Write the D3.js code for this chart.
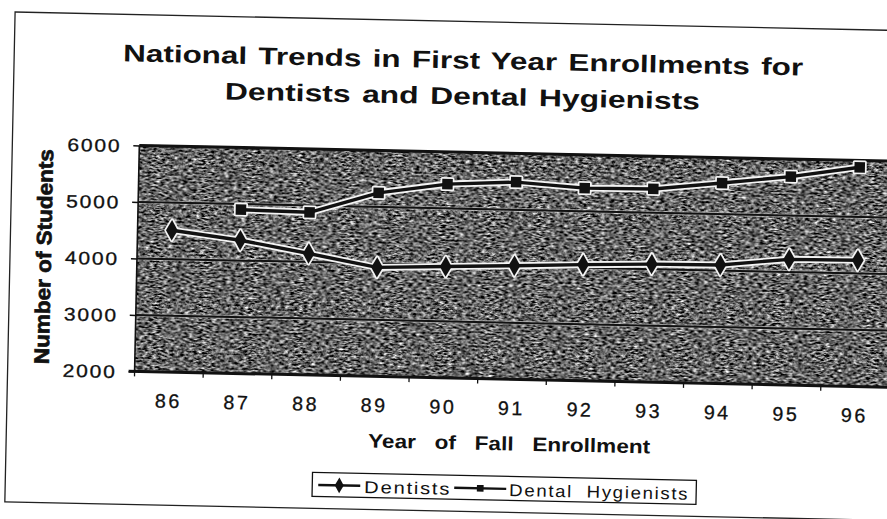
<!DOCTYPE html>
<html>
<head>
<meta charset="utf-8">
<script src="https://cdn.jsdelivr.net/npm/d3@7"></script>
<style>
  body { margin: 0; background: #fff; }
  svg { display: block; }
  text { font-family: "Liberation Sans", Arial, Helvetica, sans-serif; fill: #111; white-space: pre; }
</style>
</head>
<body>
<svg id="chart" width="887" height="519"></svg>
<script>
// ---- data ----
const years = ["86", "87", "88", "89", "90", "91", "92", "93", "94", "95", "96"];
const dentists = [4510, 4360, 4150, 3930, 3970, 4010, 4055, 4090, 4100, 4225, 4235];
const hygienists = [null, 4900, 4880, 5250, 5430, 5490, 5410, 5420, 5550, 5690, 5880];
const yTicks = [2000, 3000, 4000, 5000, 6000];
const seriesNames = ["Dentists", "Dental  Hygienists"];
const titleLines = ["National Trends in First Year Enrollments for", "Dentists and Dental Hygienists"];
const xTitle = "Year   of   Fall   Enrollment";
const yTitle = "Number of Students";

// ---- layout ----
const plot = { left: 137, right: 892, top: 151.8, bottom: 377.8 };

const svg = d3.select("#chart");
const defs = svg.append("defs");

// speckled fill used for the plot area
const grain = defs.append("filter")
  .attr("id", "grain")
  .attr("x", 0).attr("y", 0).attr("width", "100%").attr("height", "100%")
  .attr("color-interpolation-filters", "sRGB");
grain.append("feTurbulence")
  .attr("type", "fractalNoise")
  .attr("baseFrequency", "0.22 0.55")
  .attr("numOctaves", 3)
  .attr("seed", 7)
  .attr("result", "noise");
grain.append("feColorMatrix")
  .attr("in", "noise")
  .attr("type", "matrix")
  .attr("values", "1.9 0 0 0 -0.56  1.9 0 0 0 -0.56  1.9 0 0 0 -0.56  0 0 0 0 1");

// the printed page sits slightly askew
const root = svg.append("g").attr("transform", "rotate(1.2,443,260)");

// outer frame
root.append("rect")
  .attr("x", 10).attr("y", 21).attr("width", 900).attr("height", 490)
  .attr("fill", "none").attr("stroke", "#222").attr("stroke-width", 1.3);

// ---- scales ----
const x = d3.scaleBand().domain(years).range([plot.left, plot.right]);
const cx = d => x(d) + x.bandwidth() / 2;
const y = d3.scaleLinear().domain([2000, 6000]).range([plot.bottom, plot.top]);

// plot background
root.append("rect")
  .attr("x", plot.left).attr("y", plot.top)
  .attr("width", plot.right - plot.left).attr("height", plot.bottom - plot.top)
  .attr("fill", "#666")
  .attr("filter", "url(#grain)");

// gridlines
const grid = root.append("g");
const inner = yTicks.filter(v => v > 2000 && v < 6000);
grid.selectAll("line.halo").data(inner).join("line")
  .attr("class", "halo")
  .attr("x1", plot.left).attr("x2", plot.right)
  .attr("y1", d => y(d)).attr("y2", d => y(d))
  .attr("stroke", "#ddd").attr("stroke-opacity", 0.5).attr("stroke-width", 3.8);
grid.selectAll("line.core").data(inner).join("line")
  .attr("class", "core")
  .attr("x1", plot.left).attr("x2", plot.right)
  .attr("y1", d => y(d)).attr("y2", d => y(d))
  .attr("stroke", "#111").attr("stroke-width", 2);

// plot frame: heavy top and bottom rules, lighter left edge
root.append("line")
  .attr("x1", plot.left).attr("x2", plot.right)
  .attr("y1", y(6000)).attr("y2", y(6000))
  .attr("stroke", "#111").attr("stroke-width", 3);
root.append("line")
  .attr("x1", plot.left - 6).attr("x2", plot.right)
  .attr("y1", y(2000)).attr("y2", y(2000))
  .attr("stroke", "#111").attr("stroke-width", 3);
root.append("line")
  .attr("x1", plot.left).attr("x2", plot.left)
  .attr("y1", y(6000)).attr("y2", y(2000))
  .attr("stroke", "#111").attr("stroke-width", 1.6);

// y axis ticks and labels
const yAxis = root.append("g")
  .attr("transform", `translate(${plot.left},0)`)
  .call(d3.axisLeft(y).tickValues(yTicks).tickSize(6).tickPadding(0).tickFormat(d3.format("d")));
yAxis.select(".domain").remove();
yAxis.selectAll(".tick line").attr("stroke", "#111").attr("stroke-width", 1.5);
yAxis.selectAll(".tick text")
  .attr("x", -18)
  .attr("dy", "0.36em")
  .attr("text-anchor", "end")
  .attr("textLength", 54)
  .attr("lengthAdjust", "spacingAndGlyphs")
  .style("font-size", "18px")
  .style("letter-spacing", "1.5px")
  .style("fill", "#111")
  .style("stroke", "#111").style("stroke-width", 0.3);

// x axis: ticks on category boundaries, labels centred under categories
const bounds = years.map(d => x(d));
root.append("g").selectAll("line").data(bounds).join("line")
  .attr("x1", d => d).attr("x2", d => d)
  .attr("y1", plot.bottom).attr("y2", plot.bottom + 5)
  .attr("stroke", "#111").attr("stroke-width", 1.3);
root.append("g").selectAll("text").data(years).join("text")
  .attr("x", d => cx(d))
  .attr("y", 413.5)
  .attr("text-anchor", "middle")
  .attr("textLength", 27)
  .attr("lengthAdjust", "spacingAndGlyphs")
  .style("font-size", "19.5px")
  .style("letter-spacing", "2.5px")
  .style("stroke", "#111").style("stroke-width", 0.3)
  .text(d => d);

// axis titles
root.append("text")
  .attr("x", 513).attr("y", 449)
  .attr("text-anchor", "middle")
  .attr("textLength", 282)
  .attr("lengthAdjust", "spacingAndGlyphs")
  .style("font-size", "19.5px").style("font-weight", "bold")
  .text(xTitle);
root.append("text")
  .attr("transform", "translate(51,265) rotate(-90)")
  .attr("text-anchor", "middle")
  .attr("textLength", 215)
  .attr("lengthAdjust", "spacingAndGlyphs")
  .style("font-size", "21px").style("font-weight", "bold")
  .style("stroke", "#111").style("stroke-width", 0.7)
  .text(yTitle);

// chart title
root.append("g").selectAll("text").data(titleLines).join("text")
  .attr("x", 459)
  .attr("y", (d, i) => 68 + i * 36)
  .attr("text-anchor", "middle")
  .attr("textLength", (d, i) => i === 0 ? 680 : 475)
  .attr("lengthAdjust", "spacingAndGlyphs")
  .style("font-size", "24px").style("font-weight", "bold")
  .style("word-spacing", "2px")
  .text(d => d);

// ---- series ----
const diamond = d3.symbol().type(d3.symbolDiamond).size(120);
const square = d3.symbol().type(d3.symbolSquare).size(110);

const series = [
  { name: seriesNames[0], values: dentists, shape: diamond },
  { name: seriesNames[1], values: hygienists, shape: square }
];

const line = d3.line()
  .defined(d => d.v != null)
  .x(d => cx(d.year))
  .y(d => y(d.v));

series.forEach(s => {
  const pts = years.map((year, i) => ({ year, v: s.values[i] }));
  const g = root.append("g");
  g.append("path").datum(pts)
    .attr("d", line)
    .attr("fill", "none")
    .attr("stroke", "#f4f4f4").attr("stroke-width", 7)
    .attr("stroke-linejoin", "round").attr("stroke-linecap", "round");
  g.selectAll("path.halo").data(pts.filter(p => p.v != null)).join("path")
    .attr("class", "halo")
    .attr("transform", p => `translate(${cx(p.year)},${y(p.v)})`)
    .attr("d", s.shape)
    .attr("fill", "#f4f4f4").attr("stroke", "#f4f4f4").attr("stroke-width", 3.5)
    .attr("stroke-linejoin", "round");
  g.append("path").datum(pts)
    .attr("d", line)
    .attr("fill", "none")
    .attr("stroke", "#111").attr("stroke-width", 3.4)
    .attr("stroke-linejoin", "round");
  g.selectAll("path.mark").data(pts.filter(p => p.v != null)).join("path")
    .attr("class", "mark")
    .attr("transform", p => `translate(${cx(p.year)},${y(p.v)})`)
    .attr("d", s.shape)
    .attr("fill", "#111");
});

// ---- legend ----
const legend = root.append("g");
legend.append("rect")
  .attr("x", 317).attr("y", 475).attr("width", 384).attr("height", 24)
  .attr("fill", "#fff").attr("stroke", "#111").attr("stroke-width", 1.3);

const legendItems = [
  { name: seriesNames[0], shape: d3.symbol().type(d3.symbolDiamond).size(70), x0: 323, x1: 365, tx: 369, tl: 87 },
  { name: seriesNames[1], shape: d3.symbol().type(d3.symbolSquare).size(45), x0: 459, x1: 511, tx: 514, tl: 180 }
];
legendItems.forEach(it => {
  const mid = (it.x0 + it.x1) / 2;
  legend.append("line")
    .attr("x1", it.x0).attr("x2", it.x1)
    .attr("y1", 487.5).attr("y2", 487.5)
    .attr("stroke", "#111").attr("stroke-width", 2.4);
  legend.append("path")
    .attr("transform", `translate(${mid},487.5)`)
    .attr("d", it.shape)
    .attr("fill", "#111");
  legend.append("text")
    .attr("x", it.tx).attr("y", 494.5)
    .attr("textLength", it.tl)
    .attr("lengthAdjust", "spacingAndGlyphs")
    .style("font-size", "17px")
    .style("letter-spacing", "1.5px")
    .text(it.name);
});
</script>
</body>
</html>
